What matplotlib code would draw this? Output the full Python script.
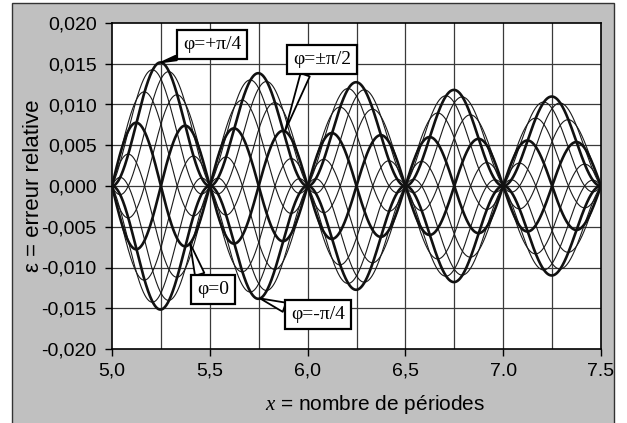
import numpy as np
import matplotlib.pyplot as plt
from matplotlib.patches import Rectangle

plt.rcParams['font.family'] = ['Liberation Sans Narrow', 'Liberation Sans', 'DejaVu Sans']
plt.rcParams['mathtext.fontset'] = 'custom'
plt.rcParams['mathtext.it'] = 'Liberation Serif:italic'
plt.rcParams['mathtext.rm'] = 'Liberation Sans'

# phase values, in multiples of pi/12 (+pi/2 gives the same curve as -pi/2)
phase_steps = [-6, -5, -4, -3, -2, -1, 0, 1, 2, 3, 4, 5]
thick_steps = [-6, -3, 0, 3]

x_min, x_max = 5.0, 7.5
x_ticks = [5.0, 5.5, 6.0, 6.5, 7.0, 7.5]
x_tick_labels = ['5,0', '5,5', '6,0', '6,5', '7.0', '7.5']
y_ticks = [-0.020, -0.015, -0.010, -0.005, 0.000, 0.005, 0.010, 0.015, 0.020]


def erreur(x, step):
    # relative error of the mean of sin^2 over x periods, phase phi
    phi = step * np.pi / 12
    return (np.sin(4 * np.pi * x - 2 * phi) + np.sin(2 * phi)) / (8 * np.pi * x)


fig = plt.figure(figsize=(6.27, 4.23), dpi=100)
fig.patch.set_facecolor('white')
fig.add_artist(Rectangle((12 / 627, -0.1), 602 / 627, 1.1 - 3 / 423,
                         transform=fig.transFigure, fc='#c0c0c0', ec='#333333',
                         lw=1.0, zorder=-5))

ax = fig.add_axes([112 / 627, 1 - 349 / 423, 489 / 627, 326 / 423])
ax.set_facecolor('white')

x = np.linspace(x_min, x_max, 2000)
for s in phase_steps:
    if s in thick_steps:
        ax.plot(x, erreur(x, s), color='#111111', lw=1.9, zorder=3)
    else:
        ax.plot(x, erreur(x, s), color='#1a1a1a', lw=0.8, zorder=2)

ax.set_xlim(x_min, x_max)
ax.set_ylim(-0.020, 0.020)

# grid every quarter period and every 0.005
for gx in np.arange(x_min + 0.25, x_max, 0.25):
    ax.axvline(gx, color='#3a3a3a', lw=0.9, zorder=1)
for gy in y_ticks[1:-1]:
    ax.axhline(gy, color='#3a3a3a', lw=0.9, zorder=1)

ax.set_xticks(x_ticks)
ax.set_xticklabels(x_tick_labels)
ax.set_yticks(y_ticks)
ax.set_yticklabels([('%.3f' % v).replace('.', ',') for v in y_ticks])
ax.tick_params(axis='both', direction='out', length=5, width=1, labelsize=14, colors='black')
ax.tick_params(axis='y', pad=6)
ax.tick_params(axis='x', pad=5)
for sp in ax.spines.values():
    sp.set_linewidth(1.2)
    sp.set_color('black')

ax.set_xlabel(r'$x$ = nombre de périodes', fontsize=15, family='Liberation Sans')
ax.xaxis.set_label_coords(0.538, -0.135)
ax.set_ylabel('ε = erreur relative', fontsize=16, family='Liberation Sans')
ax.yaxis.set_label_coords(-0.14, 0.5)

box = dict(boxstyle='square,pad=0.3', fc='white', ec='black', lw=1.6)
label_font = dict(family='Liberation Serif', fontsize=14)

ax.annotate('φ=+π/4', xy=(5.25, erreur(5.25, 3)), xytext=(5.511, 0.0174),
            ha='center', va='center', bbox=box, zorder=6, **label_font,
            arrowprops=dict(arrowstyle='wedge,tail_width=0.25', fc='black', ec='black',
                            lw=1.2, relpos=(0.2, 0.0), shrinkA=0, shrinkB=0))
ax.annotate('φ=±π/2', xy=(5.884, erreur(5.884, -6)), xytext=(6.074, 0.0155),
            ha='center', va='center', bbox=box, zorder=6, **label_font,
            arrowprops=dict(arrowstyle='wedge,tail_width=0.5', fc='white', ec='black',
                            lw=1.3, relpos=(0.25, 0.0), shrinkA=0, shrinkB=0))
ax.annotate('φ=0', xy=(5.399, erreur(5.399, 0)), xytext=(5.516, -0.0127),
            ha='center', va='center', bbox=box, zorder=6, **label_font,
            arrowprops=dict(arrowstyle='wedge,tail_width=0.5', fc='white', ec='black',
                            lw=1.3, relpos=(0.15, 1.0), shrinkA=0, shrinkB=0))
ax.annotate('φ=-π/4', xy=(5.757, erreur(5.757, -3)), xytext=(6.053, -0.0158),
            ha='center', va='center', bbox=box, zorder=6, **label_font,
            arrowprops=dict(arrowstyle='wedge,tail_width=0.5', fc='white', ec='black',
                            lw=1.3, relpos=(0.0, 0.8), shrinkA=0, shrinkB=0))

fig.savefig('out.png', dpi=100)
